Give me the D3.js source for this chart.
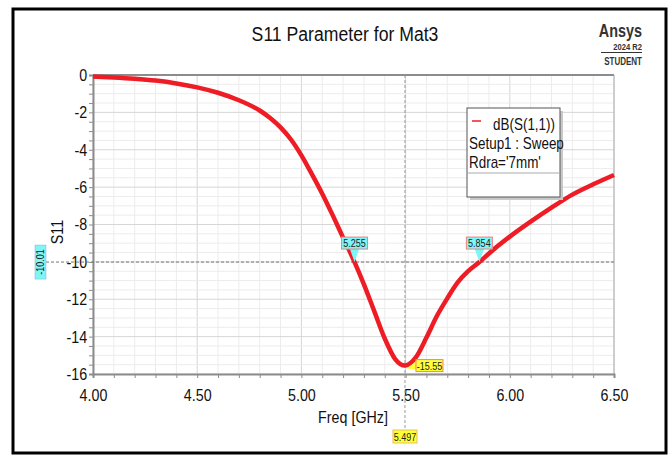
<!DOCTYPE html>
<html>
<head>
<meta charset="utf-8">
<script src="https://cdn.jsdelivr.net/npm/d3@7"></script>
<style>
  body { margin: 0; background: #fff; }
  svg text { font-family: "Liberation Sans", Arial, sans-serif; }
</style>
</head>
<body>
<svg id="chart"></svg>
<script>
// S11 sweep
const freq = [4.00, 4.10, 4.20, 4.30, 4.40, 4.50, 4.60, 4.70, 4.80, 4.85, 4.90, 4.95, 5.00, 5.05, 5.10, 5.15, 5.20, 5.255, 5.30, 5.35, 5.40, 5.45, 5.497, 5.55, 5.60, 5.65, 5.70, 5.75, 5.80, 5.854, 5.90, 6.00, 6.10, 6.20, 6.30, 6.40, 6.50]
const s11 = [-0.08, -0.13, -0.20, -0.30, -0.45, -0.66, -0.95, -1.35, -1.90, -2.30, -2.80, -3.45, -4.30, -5.30, -6.35, -7.50, -8.70, -10.01, -11.20, -12.65, -14.10, -15.20, -15.55, -15.10, -14.05, -12.90, -11.95, -11.10, -10.50, -10.01, -9.55, -8.65, -7.85, -7.10, -6.40, -5.85, -5.35]
const xTicks = [4.00, 4.50, 5.00, 5.50, 6.00, 6.50]
const yTicks = [0, -2, -4, -6, -8, -10, -12, -14, -16]
const markerLevel = -10.01
const crossings = [5.255, 5.854]
const minPoint = { f: 5.497, v: -15.55 }

var width = 672
var height = 457
var plot = { left: 93, right: 614, top: 75, bottom: 374 }
var squeeze = 0.84

var svg = d3.select('#chart').attr('width', width).attr('height', height)

// narrow text helper (no condensed font available)
function label(parent, tx, ty, str, size, anchor, opts) {
    opts = opts || {}
    var t = parent.append('text')
        .attr('transform', `translate(${tx}, ${ty}) ${opts.rotate ? 'rotate(' + opts.rotate + ')' : ''} scale(${opts.sx || squeeze}, 1)`)
        .attr('text-anchor', anchor || 'start')
        .style('font-size', size + 'px')
        .attr('fill', opts.fill || '#111')
        .text(str)
    if (opts.bold) t.style('font-weight', 'bold')
    return t
}

// outer frame
svg.append('rect').attr('x', 13).attr('y', 9).attr('width', 653).attr('height', 444)
    .attr('fill', '#fff').attr('stroke', '#000').attr('stroke-width', 3)

var x = d3.scaleLinear().domain([4, 6.5]).range([plot.left, plot.right])
var y = d3.scaleLinear().domain([-16, 0]).range([plot.bottom, plot.top])

// grid
var g = svg.append('g')
var minorX = d3.range(4, 6.5001, 0.1)
var minorY = d3.range(-16, 0.001, 0.5)
g.selectAll('.gx').data(minorX).enter().append('line')
    .attr('x1', (d) => x(d)).attr('x2', (d) => x(d))
    .attr('y1', plot.top).attr('y2', plot.bottom)
    .attr('stroke', (d) => Math.abs(d * 2 - Math.round(d * 2)) < 1e-6 ? '#d6d6d6' : '#ececec')
    .attr('stroke-width', 1)
g.selectAll('.gy').data(minorY).enter().append('line')
    .attr('x1', plot.left).attr('x2', plot.right)
    .attr('y1', (d) => y(d)).attr('y2', (d) => y(d))
    .attr('stroke', (d) => Math.abs(d / 2 - Math.round(d / 2)) < 1e-6 ? '#d6d6d6' : '#ececec')
    .attr('stroke-width', 1)

// plot border
svg.append('line').attr('x1', plot.left).attr('x2', plot.right).attr('y1', plot.top).attr('y2', plot.top)
    .attr('stroke', '#8c8c8c').attr('stroke-width', 2)
svg.append('line').attr('x1', plot.right).attr('x2', plot.right).attr('y1', plot.top).attr('y2', plot.bottom)
    .attr('stroke', '#b0b0b0').attr('stroke-width', 1)

// axes
const isMajorX = (d) => xTicks.some((t) => Math.abs(t - d) < 1e-6)
const xAxis = d3.axisBottom(x).tickValues(minorX).tickSize(4).tickFormat((d) => isMajorX(d) ? d3.format('.2f')(d) : '')
var xa = svg.append('g').attr('transform', `translate(0, ${plot.bottom})`).call(xAxis)
const yAxis = d3.axisLeft(y).tickValues(minorY).tickSize(4).tickFormat((d) => yTicks.indexOf(d) >= 0 ? String(d) : '')
var ya = svg.append('g').attr('transform', `translate(${plot.left}, 0)`).call(yAxis)
;[xa, ya].forEach((a) => {
    a.select('.domain').attr('stroke', '#8c8c8c').attr('stroke-width', 2)
    a.selectAll('.tick line').attr('stroke', '#8c8c8c')
    a.selectAll('.tick text').attr('fill', '#111').style('font-size', '17px').attr('transform', `scale(${squeeze}, 1)`)
})
xa.selectAll('.tick text').attr('dy', '1.2em')
ya.selectAll('.tick text').attr('x', -7)

// axis titles
label(svg, 353, 423, 'Freq [GHz]', 17, 'middle')
label(svg, 63, 232, 'S11', 17, 'middle', { rotate: -90 })

// title & logo
label(svg, 345, 41, 'S11 Parameter for Mat3', 21, 'middle')
label(svg, 642, 37, 'Ansys', 18, 'end', { bold: true, fill: '#333', sx: 0.8 })
label(svg, 642, 50, '2024 R2', 9.5, 'end', { bold: true, fill: '#333', sx: 0.8 })
svg.append('line').attr('x1', 601).attr('x2', 642).attr('y1', 52.5).attr('y2', 52.5).attr('stroke', '#333').attr('stroke-width', 1)
label(svg, 642, 65, 'STUDENT', 10, 'end', { bold: true, fill: '#333', sx: 0.8 })

// marker lines
svg.append('line').attr('x1', 46).attr('x2', plot.right).attr('y1', y(markerLevel)).attr('y2', y(markerLevel))
    .attr('stroke', '#777').attr('stroke-dasharray', '3,2').attr('stroke-width', 1)
svg.append('line').attr('x1', x(minPoint.f)).attr('x2', x(minPoint.f)).attr('y1', plot.top).attr('y2', 430)
    .attr('stroke', '#999').attr('stroke-dasharray', '3,2').attr('stroke-width', 1)

// curve
var line = d3.line().x((d, i) => x(freq[i])).y((d) => y(d)).curve(d3.curveMonotoneX)
svg.append('path').datum(s11).attr('d', line).attr('fill', 'none')
    .attr('stroke', '#ee1c25').attr('stroke-width', 4.5).attr('stroke-linejoin', 'round')

// legend
var lg = svg.append('g')
lg.append('rect').attr('x', 470).attr('y', 111).attr('width', 93).attr('height', 89).attr('fill', '#c8c8c8')
lg.append('rect').attr('x', 467).attr('y', 108).attr('width', 93).attr('height', 89)
    .attr('fill', '#fff').attr('stroke', '#555').attr('stroke-width', 1)
lg.append('line').attr('x1', 467).attr('x2', 560).attr('y1', 173).attr('y2', 173).attr('stroke', '#aaa')
lg.append('line').attr('x1', 472).attr('x2', 481).attr('y1', 121).attr('y2', 121).attr('stroke', '#ee1c25').attr('stroke-width', 1.5)
label(lg, 555, 130, 'dB(S(1,1))', 16, 'end')
label(lg, 469, 149, 'Setup1 : Sweep', 16, 'start')
label(lg, 469, 168, "Rdra='7mm'", 16, 'start')

// crossing markers
crossings.forEach((f) => {
    var px = x(f), py = y(markerLevel)
    var mg = svg.append('g')
    mg.append('path').attr('d', `M${px - 5},${py - 14} L${px + 5},${py - 14} L${px},${py} Z`).attr('fill', '#7ff5f5')
    mg.append('rect').attr('x', px - 13).attr('y', py - 25).attr('width', 26).attr('height', 12)
        .attr('fill', '#7ff5f5').attr('stroke', '#f08080').attr('stroke-width', 1)
    label(mg, px, py - 15.5, d3.format('.3f')(f), 11, 'middle', { fill: '#222', sx: 0.82 })
})

// minimum marker
var mx = x(minPoint.f), my = y(minPoint.v)
svg.append('path').attr('d', `M${mx + 2},${my + 3} L${mx + 12},${my - 5} L${mx + 12},${my + 4} Z`).attr('fill', '#ffff33')
svg.append('rect').attr('x', mx + 11).attr('y', my - 6).attr('width', 27).attr('height', 12)
    .attr('fill', '#ffff33').attr('stroke', '#f08080').attr('stroke-width', 1)
label(svg, mx + 24.5, my + 4, d3.format('.2f')(minPoint.v).replace('\u2212', '-'), 11, 'middle', { fill: '#222', sx: 0.82 })

// x readout
svg.append('rect').attr('x', mx - 12).attr('y', 430).attr('width', 24).attr('height', 13)
    .attr('fill', '#ffff33').attr('stroke', '#e8c060').attr('stroke-width', 1)
label(svg, mx, 440.5, d3.format('.3f')(minPoint.f), 11, 'middle', { fill: '#222', sx: 0.82 })

// y readout
svg.append('rect').attr('x', 35).attr('y', y(markerLevel) - 17).attr('width', 11).attr('height', 34)
    .attr('fill', '#7ff5f5').attr('stroke', '#8ad').attr('stroke-width', 0.5)
label(svg, 44, y(markerLevel), d3.format('.2f')(markerLevel).replace('\u2212', '-'), 11, 'middle', { fill: '#222', rotate: -90, sx: 0.82 })
</script>
</body>
</html>
